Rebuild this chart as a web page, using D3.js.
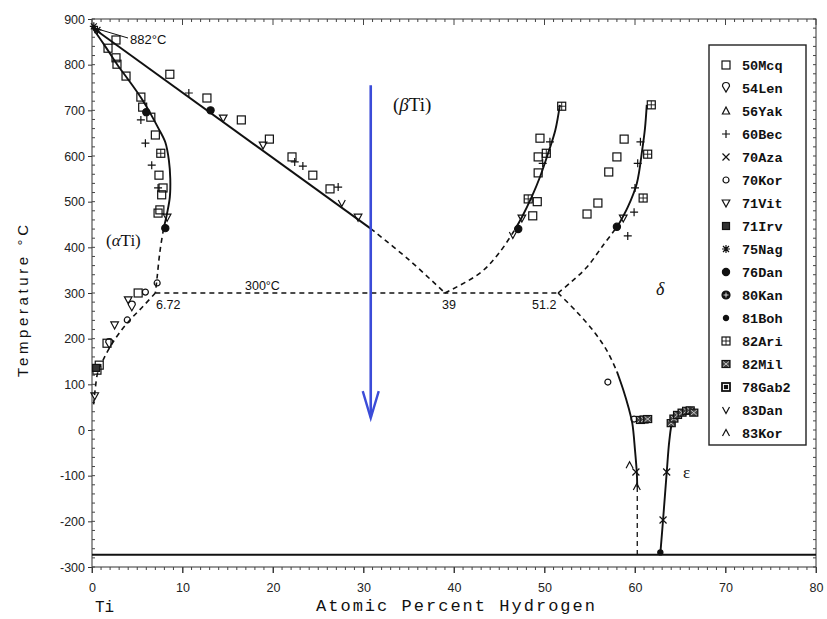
<!DOCTYPE html>
<html><head><meta charset="utf-8">
<script src="https://cdn.jsdelivr.net/npm/d3@7"></script>
<style>
html,body{margin:0;padding:0;background:#fff;}
svg{display:block;}
</style></head>
<body>
<svg id="chart" width="827" height="619"></svg>
<script>
// ---------- axis ticks ----------
const xTicks = [0,10,20,30,40,50,60,70,80];
const yTicks = [-300,-200,-100,0,100,200,300,400,500,600,700,800,900];

// ---------- phase boundaries [at.% H, °C] ----------
const betaTransusSolid  = [[0,882],[30.8,441]];
const betaTransusDashed = [[30.8,441],[35,373],[39,300]];
const alphaTransusSolid = [[0,882],[1.3,845],[2.8,800],[4.2,762],[5.4,728],[6.4,695],[7.3,662],[8.1,630],[8.5,590],[8.65,550],[8.6,510],[8.3,475],[7.9,440]];
const alphaTransusDashed= [[7.9,440],[7.5,390],[7.2,335],[7.0,300]];
const alphaSolvus       = [[7.0,300],[5.6,270],[4.2,241],[3.0,212],[2.0,182],[1.2,152],[0.66,128],[0.33,85],[0.15,50]];
const eutectoid         = [[7.0,300],[51.5,300]];
const betaDeltaDashed   = [[39,300],[42.9,344],[45,388],[46.7,438]];
const betaDeltaSolid    = [[46.7,438],[47.5,466],[48.6,511],[49.5,554],[50.4,606],[51.2,657],[51.7,712]];
const deltaBetaDashed   = [[51.5,300],[53,325],[54.7,357],[56.5,405],[58.1,447]];
const deltaBetaSolid    = [[58.1,447],[59.2,488],[60.2,540],[60.8,614],[61.1,660],[61.3,712]];
const deltaLowerDashed  = [[51.5,300],[53.6,258],[55.6,212],[57.0,170],[58.0,128]];
const deltaLowerSolid   = [[58.0,128],[58.7,88],[59.3,48],[59.7,15],[60.0,-44],[60.2,-94],[60.25,-125]];
const deltaLowerDashed2 = [[60.25,-125],[60.25,-273]];
const epsilonBoundary   = [[62.8,-270],[63.1,-197],[63.5,-94],[63.8,-22],[64.1,15],[64.6,33],[65.5,44],[66.4,37]];
const absoluteZero      = [[0,-273],[80,-273]];
const blueArrow         = [[30.8,755],[30.8,26]];

// ---------- experimental data ----------
const mcq50 = [[1.77,836],[2.65,854],[2.65,815],[2.76,801],[3.76,775],[5.4,729],[5.6,707],[6.5,685],[7.0,646],[7.4,558],[7.85,530],[7.7,515],[7.5,482],[7.3,475],
  [8.6,779],[12.7,727],[16.5,679],[19.6,637],[22.1,598],[24.4,558],[26.3,528],
  [49.5,639],[49.3,598],[49.3,563],[49.2,500],[48.7,469],[58.8,637],[58.0,598],[57.1,565],[55.9,497],[54.7,473],
  [0.8,142],[0.55,131],[1.66,190],[5.1,300]];
const len54 = [[1.9,188],[4.4,270]];
const yak56 = [];
const bec60 = [[5.4,679],[5.9,628],[6.6,580],[7.3,530],[10.7,738],[22.4,587],[23.3,578],[27.2,532],[50.6,631],[49.8,584],[60.6,631],[60.3,584],[60.0,530],[59.9,477],[59.2,425]];
const aza70 = [[60.1,-92],[63.5,-92],[63.1,-197]];
const kor70 = [[7.2,322],[3.9,241],[5.9,302],[57.0,105],[59.9,24]];
const vit71 = [[8.3,466],[14.5,683],[18.9,624],[29.4,466],[47.5,464],[58.7,464],[4.0,285],[2.5,230],[0.3,75]];
const irv71 = [[0.45,136]];
const nag75 = [[0.2,884],[0.6,876]];
const dan76 = [[6.0,696],[13.1,700],[8.1,442],[47.1,440],[58.0,445]];
const kan80 = [];
const boh81 = [[62.8,-268]];
const ari82 = [[7.6,606],[51.9,709],[50.2,606],[48.2,506],[61.8,712],[61.4,604],[60.9,508]];
const mil82 = [[60.6,22],[61.0,23],[61.4,24],[64.0,15],[64.3,25],[64.7,33],[65.2,38],[65.7,42],[66.1,43],[66.5,38]];
const gab78 = [];
const dan83 = [[27.6,497],[46.5,427]];
const kor83 = [[59.4,-77],[60.2,-125]];

const legendNames = ["50Mcq","54Len","56Yak","60Bec","70Aza","70Kor","71Vit","71Irv","75Nag","76Dan","80Kan","81Boh","82Ari","82Mil","78Gab2","83Dan","83Kor"];
const legendSeries = [mcq50,len54,yak56,bec60,aza70,kor70,vit71,irv71,nag75,dan76,kan80,boh81,ari82,mil82,gab78,dan83,kor83];

// ---------- drawing ----------
const svg = d3.select("#chart");
const x = d3.scaleLinear().domain([0,80]).range([92,816]);
const y = d3.scaleLinear().domain([-300,900]).range([567,19]);
const ink = "#111";

// frame
svg.append("rect").attr("x",x(0)).attr("y",y(900)).attr("width",x(80)-x(0)).attr("height",y(-300)-y(900))
  .attr("fill","none").attr("stroke","#333").attr("stroke-width",1);

// axes
const fmt = d => d < 0 ? "-" + Math.abs(d) : String(d);
const axL = svg.append("g").attr("transform",`translate(${x(0)},0)`)
  .call(d3.axisLeft(y).tickValues(yTicks).tickSize(4).tickPadding(3).tickFormat(fmt));
const axB = svg.append("g").attr("transform",`translate(0,${y(-300)})`)
  .call(d3.axisBottom(x).tickValues(xTicks).tickSize(6).tickPadding(10).tickFormat(d3.format("d")));
[axL,axB].forEach(a=>{
  a.select(".domain").remove();
  a.selectAll("text").attr("font-family","Liberation Sans, Arial, sans-serif").attr("font-size",12.5).attr("fill","#222");
  a.selectAll("line").attr("stroke","#333");
});
// minor ticks
const minorY = d3.range(-300,901,20), minorX = d3.range(0,81,1);
svg.append("g").selectAll("line").data(minorY).join("line")
  .attr("x1",x(0)).attr("x2",x(0)+3).attr("y1",d=>y(d)).attr("y2",d=>y(d)).attr("stroke","#444");
svg.append("g").selectAll("line").data(minorY).join("line")
  .attr("x1",x(80)).attr("x2",x(80)-3).attr("y1",d=>y(d)).attr("y2",d=>y(d)).attr("stroke","#444");
svg.append("g").selectAll("line").data(minorX).join("line")
  .attr("x1",d=>x(d)).attr("x2",d=>x(d)).attr("y1",y(-300)).attr("y2",d=>y(-300)+(d%10===0?6:3)).attr("stroke","#444");
svg.append("g").selectAll("line").data(minorX).join("line")
  .attr("x1",d=>x(d)).attr("x2",d=>x(d)).attr("y1",y(900)).attr("y2",d=>y(900)+(d%10===0?6:3)).attr("stroke","#444");

// curves
const lineLin = d3.line().x(d=>x(d[0])).y(d=>y(d[1]));
const lineSm  = d3.line().x(d=>x(d[0])).y(d=>y(d[1])).curve(d3.curveCatmullRom.alpha(0.5));
function path(data, gen, dashed, w){
  svg.append("path").attr("d",gen(data)).attr("fill","none").attr("stroke",ink)
    .attr("stroke-width",w||1.6).attr("stroke-dasharray",dashed?"5,4":null).attr("stroke-linecap","butt");
}
path(betaTransusSolid, lineLin, false, 1.9);
path(betaTransusDashed, lineSm, true);
path(alphaTransusSolid, lineSm, false, 1.9);
path(alphaTransusDashed, lineSm, true);
path(alphaSolvus, lineSm, true);
path(eutectoid, lineLin, true);
path(betaDeltaDashed, lineSm, true);
path(betaDeltaSolid, lineSm, false, 1.9);
path(deltaBetaDashed, lineSm, true);
path(deltaBetaSolid, lineSm, false, 1.9);
path(deltaLowerDashed, lineSm, true);
path(deltaLowerSolid, lineSm, false, 1.9);
path(deltaLowerDashed2, lineLin, true, 1.3);
path(epsilonBoundary, lineSm, false, 1.9);
path(absoluteZero, lineLin, false, 2);

// leader line for 882
svg.append("line").attr("x1",x(0.3)).attr("y1",y(880)).attr("x2",128).attr("y2",38).attr("stroke",ink).attr("stroke-width",1);

// symbols
function sym(g, type, cx, cy){
  const s = g.append("g").attr("transform",`translate(${cx},${cy})`).attr("fill","none").attr("stroke",ink).attr("stroke-width",1.2);
  switch(type){
    case "50Mcq": s.append("rect").attr("x",-4).attr("y",-4).attr("width",8).attr("height",8); break;
    case "54Len": s.append("path").attr("d","M-3.5,-2 A3.5,3.5 0 1,1 3.5,-2 L0,4 Z"); break;
    case "56Yak": s.append("path").attr("d","M0,-4 L3.6,3 L-3.6,3 Z"); break;
    case "60Bec": s.append("path").attr("d","M-4,0 H4 M0,-4 V4"); break;
    case "70Aza": s.append("path").attr("d","M-3.5,-3.5 L3.5,3.5 M-3.5,3.5 L3.5,-3.5"); break;
    case "70Kor": s.append("circle").attr("r",3); break;
    case "71Vit": s.append("path").attr("d","M-3.8,-3 L3.8,-3 L0,4 Z"); break;
    case "71Irv": s.append("rect").attr("x",-3.5).attr("y",-3.5).attr("width",7).attr("height",7).attr("fill","#333"); break;
    case "75Nag": s.append("path").attr("d","M-4,0 H4 M0,-4 V4 M-3,-3 L3,3 M-3,3 L3,-3"); break;
    case "76Dan": s.append("circle").attr("r",3.6).attr("fill",ink); break;
    case "80Kan": s.append("circle").attr("r",4).attr("fill",ink); s.append("path").attr("d","M-2.5,0 H2.5 M0,-2.5 V2.5").attr("stroke","#fff").attr("stroke-width",0.8); break;
    case "81Boh": s.append("circle").attr("r",2.6).attr("fill",ink); break;
    case "82Ari": s.append("rect").attr("x",-4).attr("y",-4).attr("width",8).attr("height",8); s.append("path").attr("d","M-4,0 H4 M0,-4 V4").attr("stroke-width",0.9); break;
    case "82Mil": s.append("rect").attr("x",-4).attr("y",-3.5).attr("width",8).attr("height",7).attr("fill","#444"); s.append("path").attr("d","M-3,-2.5 L3,2.5 M-3,2.5 L3,-2.5").attr("stroke","#ddd").attr("stroke-width",0.8); break;
    case "78Gab2": s.append("rect").attr("x",-4).attr("y",-4).attr("width",8).attr("height",8).attr("stroke-width",1.8); s.append("rect").attr("x",-1.5).attr("y",-1.5).attr("width",3).attr("height",3).attr("fill",ink); break;
    case "83Dan": s.append("path").attr("d","M-3.5,-3 L0,3.5 L3.5,-3"); break;
    case "83Kor": s.append("path").attr("d","M-3.5,3 L0,-3.5 L3.5,3"); break;
  }
}
const dataG = svg.append("g");
legendSeries.forEach((arr,i)=>{
  arr.forEach(d=> sym(dataG, legendNames[i], x(d[0]), y(d[1])));
});

// blue arrow
const bx = x(blueArrow[0][0]), by0 = y(blueArrow[0][1]), by1 = y(blueArrow[1][1]);
svg.append("line").attr("x1",bx).attr("x2",bx).attr("y1",by0).attr("y2",by1-1)
  .attr("stroke","#3b4cd8").attr("stroke-width",2.6);
svg.append("path").attr("d",`M${bx-8},${by1-27} L${bx},${by1} L${bx+8},${by1-27}`)
  .attr("fill","none").attr("stroke","#3b4cd8").attr("stroke-width",2.4).attr("stroke-linejoin","miter");

// text labels
const sans = "Liberation Sans, Arial, sans-serif", serif = "Liberation Serif, Times New Roman, serif";
function txt(t, px, py, size, fam, opts){
  const e = svg.append("text").attr("x",px).attr("y",py).attr("font-size",size).attr("font-family",fam).attr("fill","#111").text(t);
  if(opts) Object.entries(opts).forEach(([k,v])=>e.attr(k,v));
  return e;
}
txt("882°C", 130, 44, 13, sans);
txt("300°C", 245, 290, 12.5, sans);
txt("6.72", 156, 309, 12.5, sans);
txt("39", 442, 309, 12.5, sans);
txt("51.2", 532, 309, 12.5, sans);
const at = txt("", 106, 246, 17, serif);
at.append("tspan").text("(");
at.append("tspan").attr("font-style","italic").text("α");
at.append("tspan").text("Ti)");
const bt = txt("", 393, 111, 19, serif);
bt.append("tspan").text("(");
bt.append("tspan").attr("font-style","italic").text("β");
bt.append("tspan").text("Ti)");
txt("δ", 656, 295, 18, serif, {"font-style":"italic"});
txt("ε", 683, 478, 17, serif);
txt("Ti", 95, 612, 16, "Liberation Mono, monospace");
txt("Atomic Percent Hydrogen", 316, 611, 17, "Liberation Mono, monospace", {"textLength":279, "lengthAdjust":"spacing"});
txt("Temperature °C", 0, 0, 15, sans, {"transform":"translate(28,377) rotate(-90)", "textLength":152, "lengthAdjust":"spacing"});

// legend
const lg = svg.append("g");
lg.append("rect").attr("x",709).attr("y",45).attr("width",97).attr("height",400).attr("fill","#fff").attr("stroke","#222").attr("stroke-width",1.4);
legendNames.forEach((n,i)=>{
  const cy = 65 + i*23;
  sym(lg, n, 726, cy);
  lg.append("text").attr("x",742).attr("y",cy+4.5).attr("font-family","Liberation Mono, monospace").attr("font-weight","bold")
    .attr("font-size",13.5).attr("fill","#111").text(n);
});
</script>
</body></html>
